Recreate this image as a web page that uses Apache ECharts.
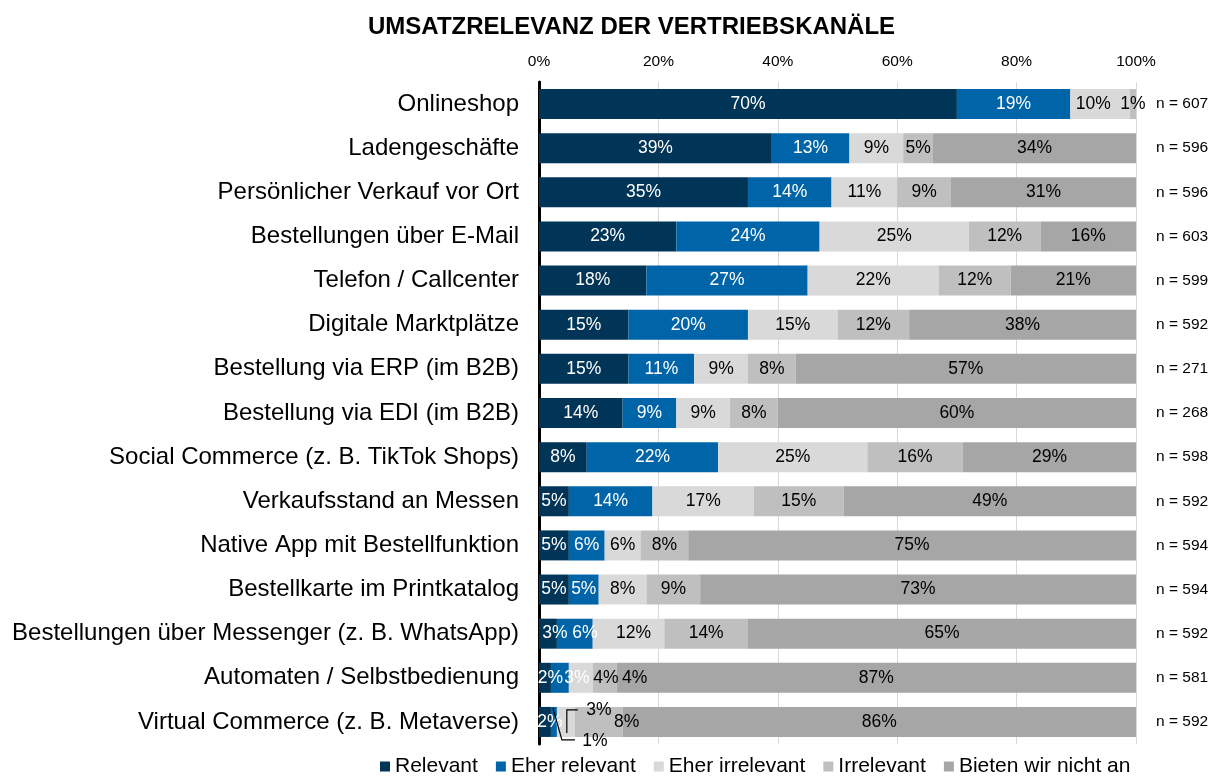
<!DOCTYPE html>
<html>
<head>
<meta charset="utf-8">
<script src="https://cdn.jsdelivr.net/npm/echarts@6/dist/echarts.min.js"></script>
<style>
  html, body { margin: 0; padding: 0; background: #fff; }
  #main { width: 1213px; height: 776px; }
</style>
</head>
<body>
<div id="main"></div>
<script>
// Kanäle (von oben nach unten)
var categories = [
  'Onlineshop', 'Ladengeschäfte', 'Persönlicher Verkauf vor Ort', 'Bestellungen über E-Mail',
  'Telefon / Callcenter', 'Digitale Marktplätze', 'Bestellung via ERP (im B2B)',
  'Bestellung via EDI (im B2B)', 'Social Commerce (z. B. TikTok Shops)', 'Verkaufsstand an Messen',
  'Native App mit Bestellfunktion', 'Bestellkarte im Printkatalog',
  'Bestellungen über Messenger (z. B. WhatsApp)', 'Automaten / Selbstbedienung',
  'Virtual Commerce (z. B. Metaverse)'
];
var relevant       = [70, 39, 35, 23, 18, 15, 15, 14,  8,  5,  5,  5,  3,  2,  2];
var eherRelevant   = [19, 13, 14, 24, 27, 20, 11,  9, 22, 14,  6,  5,  6,  3,  1];
var eherIrrelevant = [10,  9, 11, 25, 22, 15,  9,  9, 25, 17,  6,  8, 12,  4,  3];
var irrelevant     = [ 1,  5,  9, 12, 12, 12,  8,  8, 16, 15,  8,  9, 14,  4,  8];
var nichtAn        = [ 0, 34, 31, 16, 21, 38, 57, 60, 29, 49, 75, 73, 65, 87, 86];
var nValues = [607, 596, 596, 603, 599, 592, 271, 268, 598, 592, 594, 594, 592, 581, 592];
var xTicks = [0, 20, 40, 60, 80, 100];

var FONT = '"Liberation Sans", Arial, sans-serif';

// kleine Verschiebungen der Beschriftungen wie im Original (Zeile -> [dx, dy])
var labelShift = {
  relevant:       { 12: [7, 0], 13: [5.5, 0], 14: [5, 0] },
  eherRelevant:   { 12: [10, 0], 13: [17, 0], 14: [41, 19] },
  eherIrrelevant: { 0: [-7, 0], 12: [5, 0], 13: [25, 0], 14: [33, -12] },
  irrelevant:     { 13: [30, 0], 14: [28, 0] }
};
// Beschriftungsfarbe abweichend von der Serie
var labelColorFix = {
  eherRelevant: { 14: '#000' }
};

function makeData(values, key) {
  return values.map(function (v, i) {
    var item = { value: v };
    var s = labelShift[key] && labelShift[key][i];
    var c = labelColorFix[key] && labelColorFix[key][i];
    if (s || c) {
      item.label = {};
      if (s) item.label.offset = s;
      if (c) item.label.color = c;
    }
    return item;
  });
}

function series(name, values, key, color, labelColor) {
  return {
    name: name,
    type: 'bar',
    stack: 'total',
    barWidth: '68%',
    itemStyle: { color: color },
    label: {
      show: true,
      position: 'inside',
      color: labelColor,
      fontFamily: FONT,
      fontSize: 17.5,
      formatter: function (p) { return p.value ? p.value + '%' : ''; }
    },
    data: makeData(values, key)
  };
}

var chart = echarts.init(document.getElementById('main'));
var option = {
  backgroundColor: '#fff',
  animation: false,
  title: {
    text: 'UMSATZRELEVANZ DER VERTRIEBSKANÄLE',
    left: 368,
    top: 15,
    padding: 0,
    textStyle: { fontFamily: FONT, fontSize: 24, fontWeight: 'bold', color: '#000' }
  },
  legend: {
    left: 380,
    top: 756,
    padding: 0,
    icon: 'rect',
    itemWidth: 10,
    itemHeight: 10,
    itemGap: 18,
    textStyle: { fontFamily: FONT, fontSize: 21, color: '#000' },
    data: ['Relevant', 'Eher relevant', 'Eher irrelevant', 'Irrelevant', 'Bieten wir nicht an']
  },
  grid: { left: 539, right: 77, top: 82, height: 662 },
  xAxis: {
    type: 'value',
    position: 'top',
    min: 0, max: 100, interval: 20,
    axisLine: { show: false },
    axisTick: { show: false },
    splitLine: { lineStyle: { color: '#d9d9d9', width: 1 } },
    axisLabel: {
      margin: 12,
      fontFamily: FONT, fontSize: 15.5, color: '#000',
      formatter: function (v) { return xTicks.indexOf(v) >= 0 ? v + '%' : ''; }
    }
  },
  yAxis: [{
    type: 'category',
    inverse: true,
    data: categories,
    axisLine: { show: true, lineStyle: { color: '#000', width: 3 } },
    axisTick: { show: false },
    axisLabel: { margin: 20, fontFamily: FONT, fontSize: 24, color: '#000' }
  }, {
    type: 'category',
    inverse: true,
    position: 'right',
    data: nValues.map(function (n) { return 'n = ' + n; }),
    axisLine: { show: false },
    axisTick: { show: false },
    axisLabel: { margin: 20, fontFamily: FONT, fontSize: 15.5, color: '#000' }
  }],
  series: [
    series('Relevant', relevant, 'relevant', '#003557', '#fff'),
    series('Eher relevant', eherRelevant, 'eherRelevant', '#0064a8', '#fff'),
    series('Eher irrelevant', eherIrrelevant, 'eherIrrelevant', '#d9d9d9', '#000'),
    series('Irrelevant', irrelevant, 'irrelevant', '#bfbfbf', '#000'),
    series('Bieten wir nicht an', nichtAn, 'nichtAn', '#a6a6a6', '#000')
  ]
};
chart.setOption(option);

// Führungslinien für die kleinen Werte in "Virtual Commerce"
var last = categories.length - 1;
var cat = categories[last];
var blueEnd = relevant[last] + eherRelevant[last];
var lightEnd = blueEnd + eherIrrelevant[last];
var pBlue = chart.convertToPixel({ xAxisIndex: 0, yAxisIndex: 0 }, [blueEnd, cat]);
var pLight = chart.convertToPixel({ xAxisIndex: 0, yAxisIndex: 0 }, [lightEnd, cat]);
var lineStyle = { stroke: '#000', lineWidth: 1.2, fill: null };
chart.setOption({
  graphic: [
    { type: 'polyline', silent: true, z: 100, style: lineStyle,
      shape: { points: [[pBlue[0] - 4, pBlue[1] - 14], [pBlue[0] + 5, pBlue[1] + 18], [pBlue[0] + 18, pBlue[1] + 18]] } },
    { type: 'polyline', silent: true, z: 100, style: lineStyle,
      shape: { points: [[pLight[0] + 3, pLight[1] - 12], [pLight[0] - 8, pLight[1] - 12], [pLight[0] - 8, pLight[1] + 11]] } }
  ]
});
</script>
</body>
</html>
